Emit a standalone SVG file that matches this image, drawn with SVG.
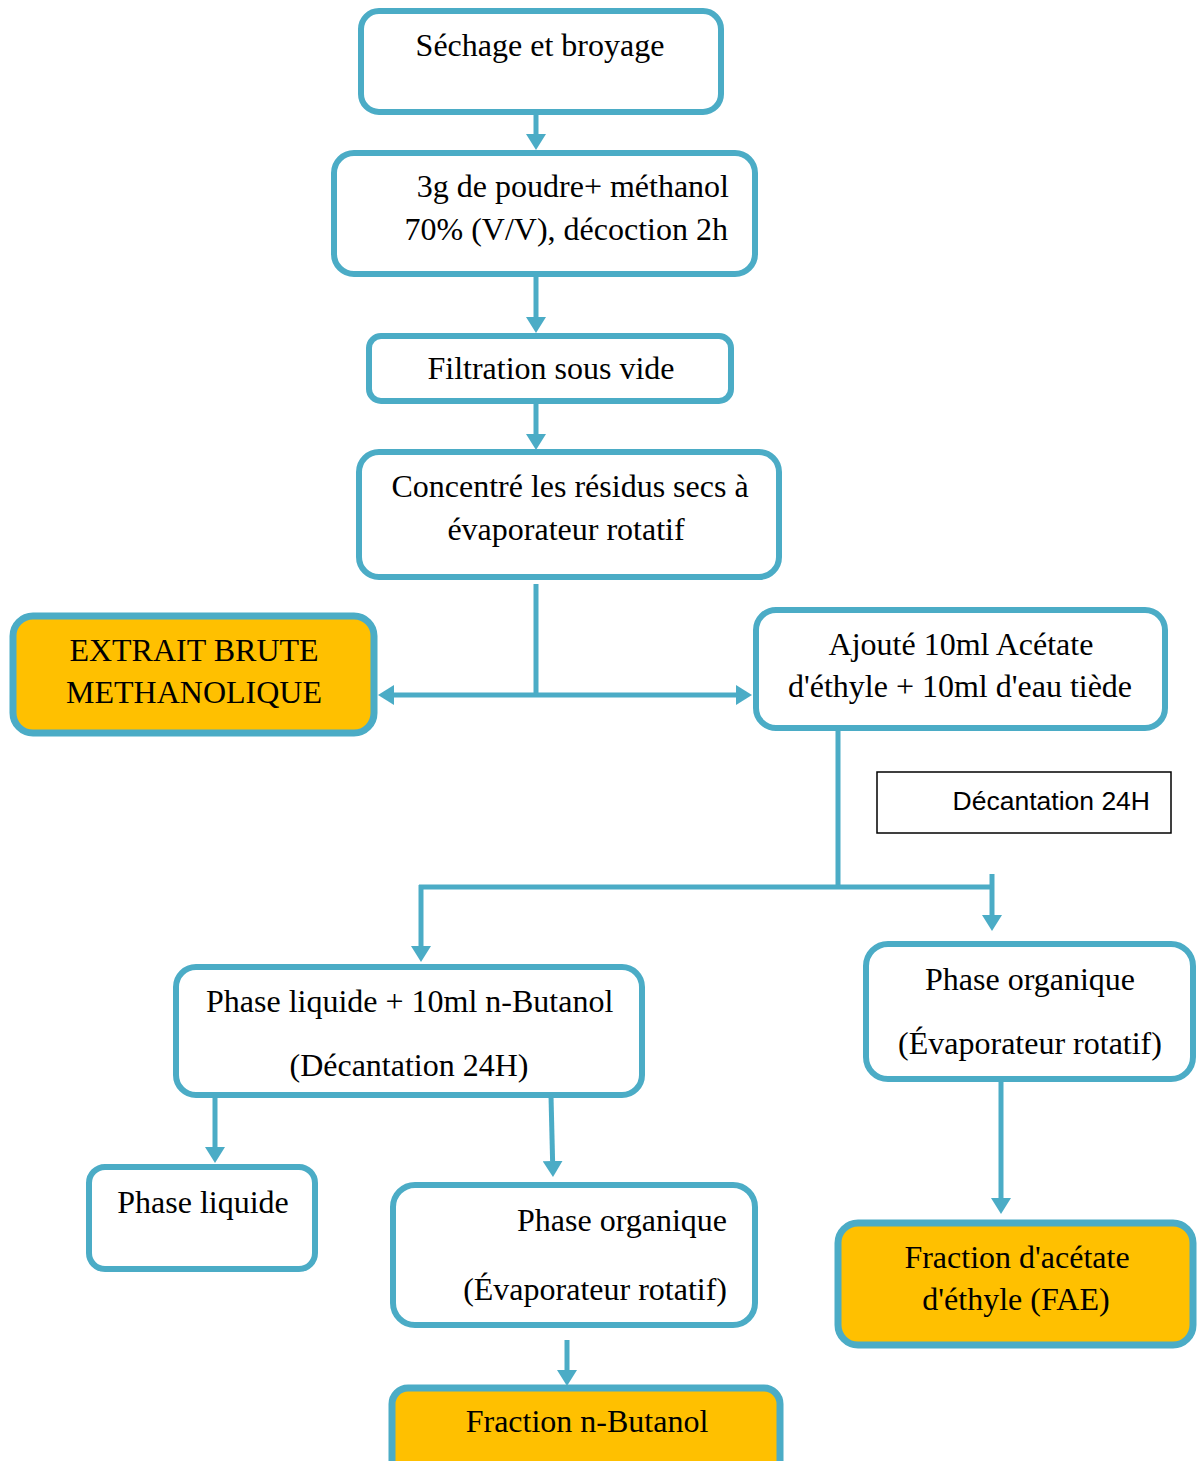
<svg xmlns="http://www.w3.org/2000/svg" width="1197" height="1461" viewBox="0 0 1197 1461">
<style>
.box{fill:#fff;stroke:#4BACC6;stroke-width:6}
.hl{fill:#FFC000;stroke:#4BACC6;stroke-width:7}
.t{font-family:"Liberation Serif","Times New Roman",serif;font-size:32px;fill:#000}
.c{text-anchor:middle}
.e{text-anchor:end}
.con{stroke:#4BACC6;stroke-width:5;fill:none}
.note{fill:#fff;stroke:#000;stroke-width:1.5}
.s{font-family:"Liberation Sans",Arial,sans-serif;font-size:26.5px;fill:#000}
</style>
<defs>
<marker id="ah" viewBox="0 0 16 20" markerWidth="16" markerHeight="20" refX="0" refY="10" orient="auto" markerUnits="userSpaceOnUse">
<path d="M0,0 L16,10 L0,20 z" fill="#4BACC6"/>
</marker>
</defs>
<g id="connectors">
<line class="con" x1="536" y1="113" x2="536" y2="134" marker-end="url(#ah)"/>
<line class="con" x1="536" y1="275" x2="536" y2="317" marker-end="url(#ah)"/>
<line class="con" x1="536" y1="402" x2="536" y2="434" marker-end="url(#ah)"/>
<line class="con" x1="536" y1="584" x2="536" y2="697"/>
<line class="con" x1="536" y1="695" x2="394" y2="695" marker-end="url(#ah)"/>
<line class="con" x1="536" y1="695" x2="736" y2="695" marker-end="url(#ah)"/>
<line class="con" x1="838" y1="729" x2="838" y2="889"/>
<line class="con" x1="419" y1="887" x2="994" y2="887"/>
<line class="con" x1="421" y1="885" x2="421" y2="946" marker-end="url(#ah)"/>
<line class="con" x1="992" y1="874" x2="992" y2="915" marker-end="url(#ah)"/>
<line class="con" x1="215" y1="1096" x2="215" y2="1147" marker-end="url(#ah)"/>
<line class="con" x1="551" y1="1096" x2="552.6" y2="1161" marker-end="url(#ah)"/>
<line class="con" x1="567" y1="1340" x2="567" y2="1370" marker-end="url(#ah)"/>
<line class="con" x1="1001" y1="1080" x2="1001" y2="1198" marker-end="url(#ah)"/>
</g>
<g id="n1"><rect class="box" x="361" y="11" width="360" height="101" rx="18"/><text class="t c" x="540" y="56">Séchage et broyage</text></g>
<g id="n2"><rect class="box" x="334" y="153" width="421" height="121" rx="20"/><text class="t e" x="729" y="197">3g de poudre+ méthanol</text><text class="t e" x="728" y="240">70% (V/V), décoction 2h</text></g>
<g id="n3"><rect class="box" x="369" y="336" width="362" height="65" rx="12"/><text class="t c" x="551" y="379">Filtration sous vide</text></g>
<g id="n4"><rect class="box" x="359" y="452" width="420" height="125" rx="20"/><text class="t c" x="570" y="497">Concentré les résidus secs à</text><text class="t c" x="566" y="540">évaporateur rotatif</text></g>
<g id="n5"><rect class="hl" x="13" y="616" width="361" height="117" rx="20"/><text class="t c" x="194" y="661">EXTRAIT BRUTE</text><text class="t c" x="194" y="703">METHANOLIQUE</text></g>
<g id="n6"><rect class="box" x="756" y="610" width="409" height="118" rx="20"/><text class="t c" x="961" y="655">Ajouté 10ml Acétate</text><text class="t c" x="960" y="697">d'éthyle + 10ml d'eau tiède</text></g>
<g id="n7"><rect class="note" x="877" y="772" width="294" height="61"/><text class="s e" x="1150" y="810">Décantation 24H</text></g>
<g id="n8"><rect class="box" x="176" y="967" width="466" height="128" rx="20"/><text class="t" x="206" y="1012">Phase liquide + 10ml n-Butanol</text><text class="t c" x="409" y="1076">(Décantation 24H)</text></g>
<g id="n9"><rect class="box" x="866" y="944" width="327" height="135" rx="22"/><text class="t c" x="1030" y="990">Phase organique</text><text class="t c" x="1030" y="1054">(Évaporateur rotatif)</text></g>
<g id="n10"><rect class="box" x="89" y="1167" width="226" height="102" rx="16"/><text class="t c" x="203" y="1213">Phase liquide</text></g>
<g id="n11"><rect class="box" x="393" y="1185" width="362" height="140" rx="22"/><text class="t e" x="727" y="1231">Phase organique</text><text class="t e" x="727" y="1300">(Évaporateur rotatif)</text></g>
<g id="n12"><rect class="hl" x="392" y="1388" width="388" height="90" rx="16"/><text class="t c" x="587" y="1432">Fraction n-Butanol</text></g>
<g id="n13"><rect class="hl" x="838" y="1223" width="355" height="122" rx="20"/><text class="t c" x="1017" y="1268">Fraction d'acétate</text><text class="t c" x="1016" y="1310">d'éthyle (FAE)</text></g>
</svg>
